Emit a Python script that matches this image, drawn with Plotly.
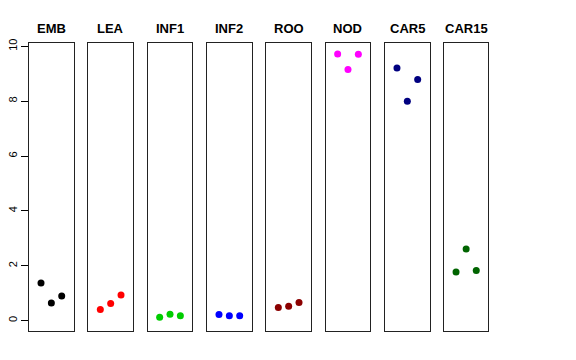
import plotly.graph_objects as go

categories = ["EMB", "LEA", "INF1", "INF2", "ROO", "NOD", "CAR5", "CAR15"]
colors = ["#000000", "#FF0000", "#00CD00", "#0000FF", "#8B0000", "#FF00FF", "#000080", "#006400"]
x_index = [1, 2, 3]
emb = [1.37, 0.64, 0.90]
lea = [0.40, 0.62, 0.93]
inf1 = [0.12, 0.23, 0.18]
inf2 = [0.22, 0.18, 0.18]
roo = [0.48, 0.52, 0.66]
nod = [9.72, 9.15, 9.71]
car5 = [9.21, 8.00, 8.79]
car15 = [1.77, 2.61, 1.83]
values = [emb, lea, inf1, inf2, roo, nod, car5, car15]
y_ticks = [0, 2, 4, 6, 8, 10]

W, H = 576, 360
# page body has an 8px default margin; compensate
ml, mr, mt, mb = 21, 96, 35, 37
pw = W - ml - mr
step = 59.33
box_w = 44.7

fig = go.Figure()
layout = dict(
    width=W, height=H, margin=dict(l=ml, r=mr, t=mt, b=mb, autoexpand=False),
    paper_bgcolor="white", plot_bgcolor="white", showlegend=False,
    font=dict(family="Liberation Sans, Arial, sans-serif", color="black"),
)
annotations = []
for i, (cat, col, vals) in enumerate(zip(categories, colors, values)):
    xa = "x" if i == 0 else f"x{i+1}"
    ya = "y" if i == 0 else f"y{i+1}"
    fig.add_trace(go.Scatter(x=x_index, y=vals, mode="markers", xaxis=xa, yaxis=ya,
                             marker=dict(color=col, size=7, line=dict(width=0))))
    d0 = (i * step) / pw
    d1 = min((i * step + box_w) / pw, 1)
    xkey = "xaxis" if i == 0 else f"xaxis{i+1}"
    ykey = "yaxis" if i == 0 else f"yaxis{i+1}"
    layout[xkey] = dict(domain=[d0, d1], range=[-0.16, 4.16], anchor=ya, automargin=False,
                        showline=True, mirror=True, linecolor="#222", linewidth=1,
                        showgrid=False, zeroline=False, showticklabels=False, ticks="")
    ydict = dict(domain=[0, 1], range=[-0.38, 10.12], anchor=xa, automargin=False,
                 showline=True, mirror=True, linecolor="#222", linewidth=1,
                 showgrid=False, zeroline=False)
    if i == 0:
        ydict.update(tickvals=y_ticks, ticktext=[str(t) for t in y_ticks], ticks="outside",
                     ticklen=7, tickcolor="black", tickwidth=1, tickangle=-90,
                     tickfont=dict(size=11, color="black"), showticklabels=True)
    else:
        ydict.update(showticklabels=False, ticks="")
    layout[ykey] = ydict
    annotations.append(dict(text=f"<b>{cat}</b>", x=(d0 + d1) / 2, xref="paper",
                            xanchor="center", y=1, yref="paper", yanchor="bottom", yshift=5,
                            showarrow=False, font=dict(size=13, color="black")))
layout["annotations"] = annotations
fig.update_layout(**layout)
fig.write_html("out.html")
